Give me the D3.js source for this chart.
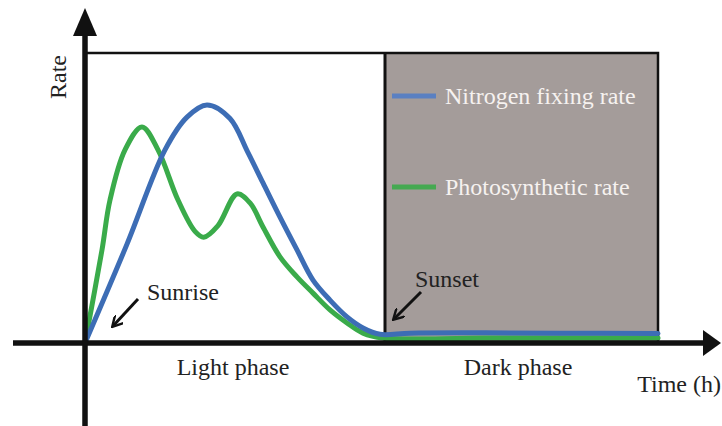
<!DOCTYPE html>
<html>
<head>
<meta charset="UTF-8">
<style>
body { margin: 0; background: #fff; }
text { font-family: "Liberation Serif", "Times New Roman", serif; }
.line { fill: none; stroke-width: 5px; stroke-linejoin: round; stroke-linecap: round; }
</style>
</head>
<body>
<svg width="722" height="426"></svg>
<script src="https://cdn.jsdelivr.net/npm/d3@7"></script>
<script>
// time in hours (light phase 0-12), rate in relative units
var nitrogenTime = [0, 1.68, 3.2, 4.08, 4.88, 5.8, 6.5, 7.12, 7.8, 8.48, 9.12, 9.8, 10.48, 11.12, 11.8, 13, 16, 19, 22.92];
var nitrogenRate = [0, 0.341, 0.666, 0.779, 0.821, 0.774, 0.66, 0.552, 0.434, 0.321, 0.217, 0.148, 0.09, 0.052, 0.03, 0.034, 0.035, 0.034, 0.033];
var photoTime = [0, 0.68, 1.0, 1.6, 2.28, 2.92, 3.72, 4.4, 4.75, 5.32, 6.08, 6.6, 7.12, 7.8, 8.48, 9.12, 9.8, 10.48, 11.12, 11.92, 16, 22.92];
var photoRate = [0, 0.321, 0.493, 0.666, 0.745, 0.666, 0.493, 0.385, 0.365, 0.405, 0.514, 0.483, 0.4, 0.297, 0.228, 0.172, 0.114, 0.069, 0.034, 0.017, 0.017, 0.017];

var seriesNames = ["Nitrogen fixing rate", "Photosynthetic rate"];
var seriesColors = ["#3d6db5", "#3aab4a"];
var legendColors = ["#5a80c2", "#45a951"];
var phaseLabels = ["Light phase", "Dark phase"];
var phaseBounds = [0, 12, 22.92];
var yMax = 1;

var svg = d3.select("svg");
var x = d3.scaleLinear().domain([0, 12]).range([85, 385]);
var y = d3.scaleLinear().domain([0, yMax]).range([343, 53]);

// dark phase background
svg.append("rect")
    .attr("x", x(phaseBounds[1]))
    .attr("y", y(yMax))
    .attr("width", x(phaseBounds[2]) - x(phaseBounds[1]))
    .attr("height", y(0) - y(yMax))
    .attr("fill", "#a49c9a");

// frame
svg.append("path")
    .attr("d", "M" + x(0) + "," + y(yMax) + "H" + x(phaseBounds[2]) + "V" + y(0))
    .attr("fill", "none").attr("stroke", "#111").attr("stroke-width", 2.5);
svg.append("line")
    .attr("x1", x(phaseBounds[1])).attr("x2", x(phaseBounds[1]))
    .attr("y1", y(yMax)).attr("y2", y(0))
    .attr("stroke", "#111").attr("stroke-width", 3);

var series = [
  nitrogenTime.map(function(t, i) { return {t: t, r: nitrogenRate[i]}; }),
  photoTime.map(function(t, i) { return {t: t, r: photoRate[i]}; })
];

var line = d3.line()
    .curve(d3.curveCatmullRom.alpha(0.5))
    .x(function(d) { return x(d.t); })
    .y(function(d) { return y(d.r); });

// draw green under blue
[1, 0].forEach(function(i) {
  svg.append("path")
      .attr("class", "line")
      .attr("d", line(series[i]))
      .style("stroke", seriesColors[i]);
});

// axes
svg.append("line")
    .attr("x1", 13).attr("x2", 705)
    .attr("y1", y(0)).attr("y2", y(0))
    .attr("stroke", "#111").attr("stroke-width", 5.5);
svg.append("path")
    .attr("d", "M703," + (y(0) - 13) + "L721," + y(0) + "L703," + (y(0) + 13) + "Z")
    .attr("fill", "#111");
svg.append("line")
    .attr("x1", x(0)).attr("x2", x(0))
    .attr("y1", 34).attr("y2", 426)
    .attr("stroke", "#111").attr("stroke-width", 5.5);
svg.append("path")
    .attr("d", "M" + (x(0) - 12) + ",36L" + x(0) + ",8L" + (x(0) + 12) + ",36Z")
    .attr("fill", "#111");

// legend
var legend = svg.selectAll(".legend")
    .data(seriesNames)
    .enter().append("g")
      .attr("transform", function(d, i) { return "translate(392," + (96 + i * 91) + ")"; });
legend.append("line")
    .attr("x1", 0).attr("x2", 44)
    .attr("stroke-width", 5)
    .attr("stroke", function(d, i) { return legendColors[i]; });
legend.append("text")
    .attr("x", 53).attr("dy", "0.33em")
    .style("font-size", "24px")
    .attr("fill", "#f6f2f0")
    .text(function(d) { return d; });

// labels
svg.append("text")
    .attr("transform", "translate(66,77) rotate(-90)")
    .attr("text-anchor", "middle")
    .style("font-size", "24px").attr("fill", "#222")
    .text("Rate");

svg.selectAll(".phase")
    .data(phaseLabels)
    .enter().append("text")
      .attr("x", function(d, i) { return i == 0 ? 233 : 518; })
      .attr("y", 375)
      .attr("text-anchor", "middle")
      .style("font-size", "24px").attr("fill", "#222")
      .text(function(d) { return d; });

svg.append("text")
    .attr("x", 721).attr("y", 392)
    .attr("text-anchor", "end")
    .style("font-size", "24px").attr("fill", "#222")
    .text("Time (h)");

// annotations
var marker = svg.append("defs").append("marker")
    .attr("id", "ah").attr("viewBox", "0 0 10 10")
    .attr("refX", 8).attr("refY", 5)
    .attr("markerWidth", 4).attr("markerHeight", 4)
    .attr("orient", "auto");
marker.append("path").attr("d", "M0,0L9,5L0,10").attr("fill", "none").attr("stroke", "#111").attr("stroke-width", 2);

svg.append("text").attr("x", 147).attr("y", 300)
    .style("font-size", "24px").attr("fill", "#222").text("Sunrise");
svg.append("line").attr("x1", 138).attr("y1", 299).attr("x2", 113).attr("y2", 326)
    .attr("stroke", "#111").attr("stroke-width", 3).attr("marker-end", "url(#ah)");

svg.append("text").attr("x", 415).attr("y", 287)
    .style("font-size", "24px").attr("fill", "#222").text("Sunset");
svg.append("line").attr("x1", 421).attr("y1", 292).attr("x2", 394).attr("y2", 319)
    .attr("stroke", "#111").attr("stroke-width", 3).attr("marker-end", "url(#ah)");
</script>
</body>
</html>
